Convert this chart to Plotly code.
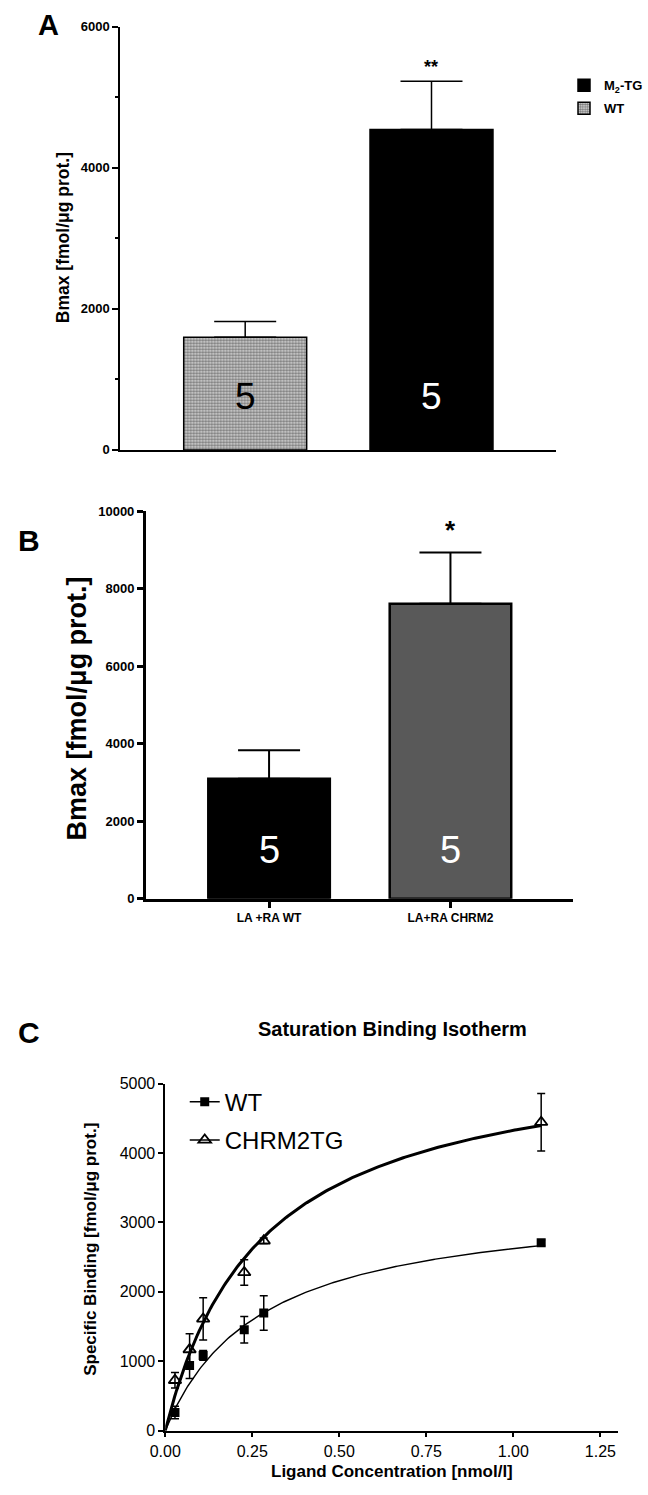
import plotly.graph_objects as go
import numpy as np

W, H = 648, 1495
FONT = "Liberation Sans, Arial, sans-serif"

# ---------------- data ----------------
# Panel A
a_groups = ["WT", "M<sub>2</sub>-TG"]
a_means = [1598, 4542]
a_err = [224, 687]
a_n = ["5", "5"]
a_sig = ["", "**"]

# Panel B
b_cats = ["LA +RA WT", "LA+RA CHRM2"]
b_means = [3096, 7614]
b_err = [736, 1320]
b_n = ["5", "5"]
b_sig = ["", "*"]

# Panel C
c_conc = [0.028, 0.07, 0.109, 0.227, 0.283, 1.08]
c_wt = [260, 940, 1083, 1453, 1695, 2707]
c_wt_err = [90, 190, 70, 190, 250, 40]
c_tg = [726, 1168, 1610, 2279, 2735, 4444]
c_tg_err = [110, 228, 305, 185, 40, 413]
wt_bmax, wt_kd = 3340, 0.273
tg_bmax, tg_kd = 5530, 0.278
c_xticks = [0, 0.25, 0.5, 0.75, 1.0, 1.25]


def px(x):
    return x / W


def py(y):
    return 1 - y / H


fig = go.Figure()

# ---------------- Panel A ----------------
a_x = list(range(len(a_groups)))
fig.add_trace(go.Bar(
    x=[a_x[0]], y=[a_means[0]], width=0.66, name=a_groups[0],
    marker=dict(color="#d0d0d0", line=dict(color="black", width=1.5),
                pattern=dict(shape=".", size=3, solidity=0.55, fgcolor="#111111", bgcolor="#dcdcdc")),
    error_y=dict(type="data", array=[a_err[0]], arrayminus=[0], symmetric=False,
                 color="black", thickness=1.5, width=31),
    xaxis="x", yaxis="y", legend="legend", legendrank=2, legendgroup="a2"))
fig.add_trace(go.Bar(
    x=[a_x[1]], y=[a_means[1]], width=0.66, name=a_groups[1],
    marker=dict(color="black", line=dict(color="black", width=1.5)),
    error_y=dict(type="data", array=[a_err[1]], arrayminus=[0], symmetric=False,
                 color="black", thickness=1.5, width=31),
    xaxis="x", yaxis="y", legend="legend", legendrank=1, legendgroup="a1"))

# ---------------- Panel B ----------------
b_x = list(range(len(b_cats)))
b_colors = ["black", "#595959"]
for i in b_x:
    fig.add_trace(go.Bar(
        x=[b_x[i]], y=[b_means[i]], width=0.67, name=b_cats[i], showlegend=False,
        marker=dict(color=b_colors[i], line=dict(color="black", width=2.5)),
        error_y=dict(type="data", array=[b_err[i]], arrayminus=[0], symmetric=False,
                     color="black", thickness=2, width=31),
        xaxis="x2", yaxis="y2"))

# ---------------- Panel C ----------------
xs = np.linspace(0, max(c_conc), 200)
fig.add_trace(go.Scatter(x=xs, y=wt_bmax * xs / (wt_kd + xs), mode="lines",
                         line=dict(color="black", width=1.4), showlegend=False,
                         xaxis="x3", yaxis="y3"))
fig.add_trace(go.Scatter(x=xs, y=tg_bmax * xs / (tg_kd + xs), mode="lines",
                         line=dict(color="black", width=3), showlegend=False,
                         xaxis="x3", yaxis="y3"))
fig.add_trace(go.Scatter(x=c_conc, y=c_wt, mode="markers", showlegend=False,
                         marker=dict(symbol="square", size=9, color="black"),
                         error_y=dict(type="data", array=c_wt_err, color="black", thickness=1.5, width=4),
                         xaxis="x3", yaxis="y3"))
fig.add_trace(go.Scatter(x=c_conc, y=c_tg, mode="markers", showlegend=False,
                         marker=dict(symbol="triangle-up-open", size=11, color="black",
                                     line=dict(width=1.8, color="black")),
                         error_y=dict(type="data", array=c_tg_err, color="black", thickness=1.5, width=4),
                         xaxis="x3", yaxis="y3"))
# legend entries for panel C
fig.add_trace(go.Scatter(x=[None], y=[None], mode="lines+markers", name="WT",
                         line=dict(color="black", width=1.5),
                         marker=dict(symbol="square", size=9, color="black"),
                         xaxis="x3", yaxis="y3", legend="legend2", legendgroup="c1"))
fig.add_trace(go.Scatter(x=[None], y=[None], mode="lines+markers", name="CHRM2TG",
                         line=dict(color="black", width=1.5),
                         marker=dict(symbol="triangle-up-open", size=11, color="black",
                                     line=dict(width=1.8, color="black")),
                         xaxis="x3", yaxis="y3", legend="legend2", legendgroup="c2"))

bold = dict(family=FONT, color="black", weight="bold")
reg = dict(family=FONT, color="black")

fig.update_layout(
    width=W, height=H, margin=dict(l=0, r=0, t=0, b=0),
    paper_bgcolor="white", plot_bgcolor="white",
    font=dict(family=FONT, color="black"),
    barmode="overlay",
    showlegend=True,
    # Panel A axes
    xaxis=dict(domain=[px(107), px(554)], range=[-0.670, 1.670], showticklabels=False,
               tickvals=[], ticks="", showgrid=False, zeroline=False, showline=True,
               linecolor="black", linewidth=2, anchor="y"),
    yaxis=dict(domain=[py(447), py(19)], range=[0, 6000], tickvals=[0, 2000, 4000, 6000],
               ticks="outside", ticklen=6, tickwidth=2, tickcolor="black", tickformat="d",
               minor=dict(ticks="outside", dtick=1000, ticklen=3, tickwidth=1.5, tickcolor="black"),
               showgrid=False, zeroline=False, showline=True, linecolor="black", linewidth=2,
               tickfont=dict(size=13, **bold), anchor="x"),
    # Panel B axes
    xaxis2=dict(domain=[px(133), px(571)], range=[-0.68, 1.675], tickvals=b_x, ticktext=b_cats,
                ticks="outside", ticklen=6, tickwidth=2.5, tickcolor="black",
                showgrid=False, zeroline=False, showline=True, linecolor="black", linewidth=2.5,
                tickfont=dict(size=12, **bold), anchor="y2"),
    yaxis2=dict(domain=[py(901), py(509)], range=[0, 10000], dtick=2000, tickformat="d",
                ticks="outside", ticklen=6, tickwidth=2.5, tickcolor="black",
                showgrid=False, zeroline=False, showline=True, linecolor="black", linewidth=2.5,
                tickfont=dict(size=13, **bold), anchor="x2"),
    # Panel C axes
    xaxis3=dict(domain=[px(153), px(617)], range=[0, 1.3], tickvals=c_xticks,
                tickformat=".2f",
                ticks="outside", ticklen=5, tickwidth=1.5, tickcolor="black",
                showgrid=False, zeroline=False, showline=True, linecolor="black", linewidth=1.5,
                tickfont=dict(size=16, **reg), anchor="y3"),
    yaxis3=dict(domain=[py(1439), py(1088)], range=[0, 5000], dtick=1000, tickformat="d",
                ticks="outside", ticklen=5, tickwidth=1.5, tickcolor="black",
                showgrid=False, zeroline=False, showline=True, linecolor="black", linewidth=1.5,
                tickfont=dict(size=16, **reg), anchor="x3"),
    legend=dict(x=1.0, y=py(63), xanchor="right", yanchor="top",
                font=dict(size=13, **bold), bgcolor="rgba(0,0,0,0)",
                tracegroupgap=3, itemwidth=30),
    legend2=dict(x=px(173), y=py(1084), xanchor="left", yanchor="top",
                 font=dict(size=24, **reg), bgcolor="rgba(0,0,0,0)",
                 tracegroupgap=4, itemwidth=30),
)

ann = []


def text_ann(x, y, text, font, angle=0):
    ann.append(dict(x=px(x), y=py(y), xref="paper", yref="paper", xanchor="center",
                    yanchor="middle", textangle=angle, text=text, showarrow=False, font=font))


# panel letters
text_ann(33, 17, "<b>A</b>", dict(size=29, **reg))
text_ann(13, 539, "<b>B</b>", dict(size=30, **reg))
text_ann(13, 1036, "<b>C</b>", dict(size=30, **reg))
# titles
text_ann(49, 232, "Bmax [fmol/μg prot.]", dict(size=17.5, **bold), -90)
text_ann(62, 708, "Bmax [fmol/μg prot.]", dict(size=27, **bold), -90)
text_ann(77, 1256, "Specific Binding [fmol/μg prot.]", dict(size=17, **bold), -90)
text_ann(386, 1480, "Ligand Concentration [nmol/l]", dict(size=17, **bold))
text_ann(386, 1033, "Saturation Binding Isotherm", dict(size=20, **bold))

# n labels & significance
n_colors_a = ["black", "white"]
for i in a_x:
    ann.append(dict(x=a_x[i], y=757, xref="x", yref="y", xanchor="center", yanchor="middle",
                    text=a_n[i], showarrow=False,
                    font=dict(size=37, family=FONT, color=n_colors_a[i])))
    if a_sig[i]:
        ann.append(dict(x=a_x[i], y=a_means[i] + a_err[i], xref="x", yref="y", xanchor="center",
                        yanchor="bottom", yshift=2, text=a_sig[i], showarrow=False,
                        font=dict(size=18, **bold)))
for i in b_x:
    ann.append(dict(x=b_x[i], y=1250, xref="x2", yref="y2", xanchor="center", yanchor="middle",
                    text=b_n[i], showarrow=False, font=dict(size=38, family=FONT, color="white")))
    if b_sig[i]:
        ann.append(dict(x=b_x[i], y=b_means[i] + b_err[i], xref="x2", yref="y2", xanchor="center",
                        yanchor="bottom", yshift=6, text=b_sig[i], showarrow=False,
                        font=dict(size=26, **bold)))

fig.update_layout(annotations=ann)
fig.write_html("out.html")
